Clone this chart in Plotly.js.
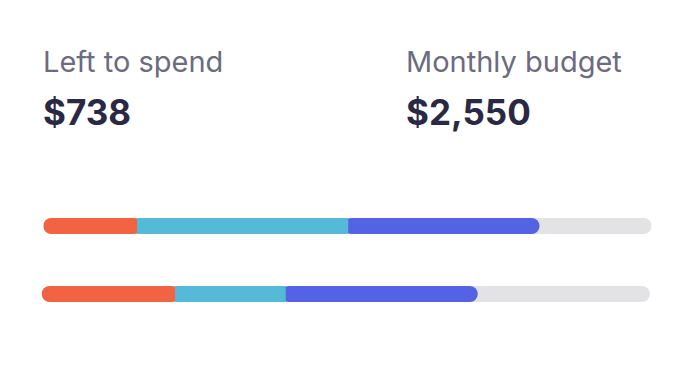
<!DOCTYPE html>
<html>
<head>
<meta charset="utf-8">
<script src="https://cdn.plot.ly/plotly-3.0.1.min.js"></script>
<style>html,body{margin:0;padding:0;background:#fff;}#chart{width:696px;height:378px;}</style>
</head>
<body>
<div id="chart"></div>
<script>
// ---- data ----
const rows = ['Row 1', 'Row 2'];          // top, bottom
const budget = 2550;
const leftToSpend = 738;
const seg1 = [393, 559];                   // red
const seg2 = [885, 464];                   // cyan
const seg3 = [802, 805];                   // blue
const segColors = ['#F26344', '#55B9D8', '#5463E4'];
const trackColor = '#E3E3E6';

const traces = [];
rows.forEach((row, i) => {
  const xa = i === 0 ? 'x' : 'x2';
  const common = {type: 'bar', orientation: 'h', y: [row], xaxis: xa, yaxis: 'y',
                  width: 0.2353, hoverinfo: 'skip', showlegend: false};
  const c1 = seg1[i], c2 = seg1[i] + seg2[i], c3 = c2 + seg3[i];
  const ov = 20; // hidden overlap under the cyan segment
  // track
  traces.push(Object.assign({}, common, {base: [0], x: [budget],
    marker: {color: trackColor, cornerradius: 8, line: {width: 0}}}));
  // red (its right end hides under cyan)
  traces.push(Object.assign({}, common, {base: [0], x: [c1 + ov],
    marker: {color: segColors[0], cornerradius: 8, line: {width: 0}}}));
  // blue (its left end hides under cyan)
  traces.push(Object.assign({}, common, {base: [c2 - ov], x: [c3 - c2 + ov],
    marker: {color: segColors[2], cornerradius: 8, line: {width: 0}}}));
  // cyan on top, square ends
  traces.push(Object.assign({}, common, {base: [c1], x: [seg2[i]],
    marker: {color: segColors[1], line: {width: 0}}}));
});

const fmt = v => '$' + v.toLocaleString('en-US');
const W = 696, H = 378;
const fontFam = 'Inter, "DejaVu Sans", sans-serif';

const layout = {
  width: W, height: H,
  margin: {l: 0, r: 0, t: 0, b: 0},
  paper_bgcolor: '#ffffff', plot_bgcolor: 'rgba(0,0,0,0)',
  barmode: 'overlay',
  hovermode: false,
  xaxis: {domain: [43.3 / W, 651.7 / W], range: [0, budget], visible: false, fixedrange: true},
  xaxis2: {domain: [41.7 / W, 650 / W], range: [0, budget], visible: false, fixedrange: true, anchor: 'y'},
  yaxis: {type: 'category', categoryarray: [rows[1], rows[0]], range: [-1.2353, 4.3235],
          visible: false, fixedrange: true},
  annotations: [
    {text: 'Left to spend', x: 40.5 / W, y: 1 - 61 / H, xref: 'paper', yref: 'paper',
     xanchor: 'left', yanchor: 'middle', showarrow: false,
     font: {family: fontFam, size: 29, color: '#6C6B80'}},
    {text: 'Monthly budget', x: 403.5 / W, y: 1 - 61 / H, xref: 'paper', yref: 'paper',
     xanchor: 'left', yanchor: 'middle', showarrow: false,
     font: {family: fontFam, size: 29, color: '#6C6B80'}},
    {text: '<b>' + fmt(leftToSpend) + '</b>', x: 40.5 / W, y: 1 - 112 / H, xref: 'paper', yref: 'paper',
     xanchor: 'left', yanchor: 'middle', showarrow: false,
     font: {family: fontFam, size: 35, color: '#2A2945'}},
    {text: '<b>' + fmt(budget) + '</b>', x: 403.5 / W, y: 1 - 112 / H, xref: 'paper', yref: 'paper',
     xanchor: 'left', yanchor: 'middle', showarrow: false,
     font: {family: fontFam, size: 35, color: '#2A2945'}}
  ]
};

Plotly.newPlot('chart', traces, layout, {displayModeBar: false, staticPlot: true});
</script>
</body>
</html>
